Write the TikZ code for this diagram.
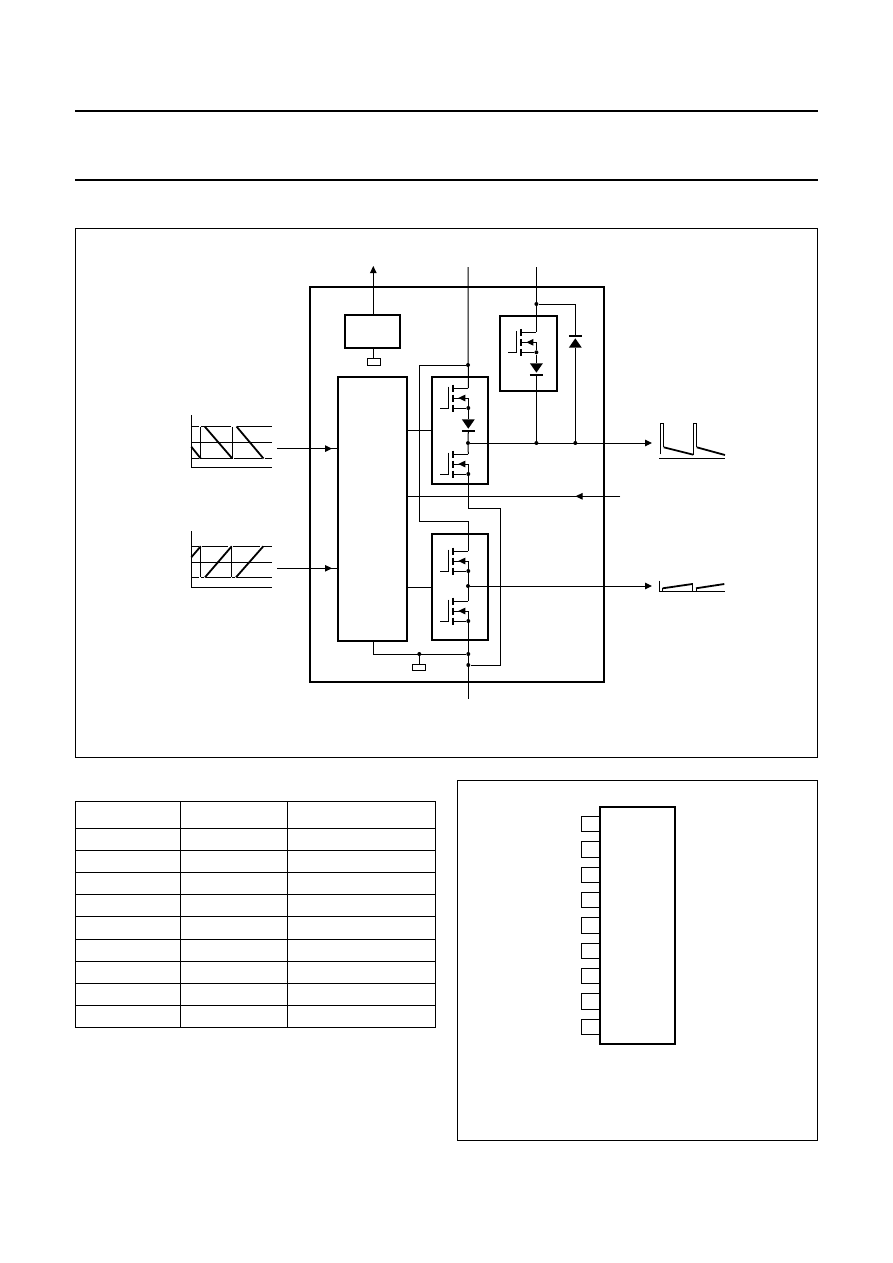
\documentclass[tikz,border=0pt]{standalone}
\usetikzlibrary{positioning,arrows.meta,calc}

\begin{document}
\begin{tikzpicture}[x=1pt,y=-1pt,
    blk/.style={draw,line width=2.2pt,outer sep=0pt,inner sep=0pt},
    term/.style={draw,line width=1pt,outer sep=0pt,inner sep=0pt,minimum height=6.4pt},
    pinbox/.style={draw,line width=1pt,outer sep=0pt,inner sep=0pt,minimum width=18.7pt,minimum height=15.5pt},
    dot/.style={circle,fill,inner sep=0pt,minimum size=4pt},
    wire/.style={line width=1pt},
    arr/.style={-{Triangle[length=7pt,width=6.5pt]},line width=1pt},
    rule/.style={line width=1.5pt},
    wave/.style={line width=1.8pt},
    bar/.style={line width=2pt}]
  \useasboundingbox (0,0) rectangle (892,1263);
  \draw[rule] (75,111) -- (818,111);
  \draw[rule] (75,180) -- (818,180);
  \node[draw,line width=1pt,minimum width=742pt,minimum height=529pt,outer sep=0pt,inner sep=0pt,anchor=north west] (figA) at (75.5,228.5) {};
  \node[draw,line width=1pt,minimum width=360pt,minimum height=360pt,outer sep=0pt,inner sep=0pt,anchor=north west] (figB) at (457.5,780.5) {};

  % chip outline and blocks
  \node[blk,minimum width=294pt,minimum height=395pt,anchor=north west] (chip) at (310,287) {};
  \node[blk,minimum width=69pt,minimum height=264pt,anchor=north west] (logic) at (338,377) {};
  \node[blk,minimum width=55pt,minimum height=33pt,anchor=north west] (reg) at (345,315) {};
  \node[blk,minimum width=56pt,minimum height=107pt,below right=0pt and 25pt of logic.north east] (hi) {};
  \node[blk,minimum width=56pt,minimum height=106pt,below=50pt of hi] (lo) {};
  \node[blk,minimum width=57pt,minimum height=75pt,anchor=north west] (boost) at (500,316) {};
  \node[term,minimum width=13pt,below=10.7pt of reg.south,xshift=1pt] (tA) {};
  \node[term,minimum width=13pt,anchor=north] (tB) at (419.3,664.3) {};

  % junctions
  \node[dot] (jHi) at (468,365) {};
  \node[dot] (jBoost) at (536.4,304) {};
  \node[dot] (jOutA) at (468,443) {};
  \node[dot] (jOutB) at (536.4,443) {};
  \node[dot] (jOutC) at (575.3,443) {};
  \node[dot] (jOutD) at (468,586) {};
  \node[dot] (jGnd) at (419.3,654) {};
  \node[dot] (jLoA) at (468.3,654) {};
  \node[dot] (jLoB) at (468.3,665) {};
  \coordinate (vddA) at (468,267);
  \coordinate (vddB) at (536.4,267);
  \coordinate (gndOut) at (468.3,699);
  \coordinate (upOut) at (373.3,266);
  \coordinate (outA) at (652,443);
  \coordinate (outB) at (652,586);
  \coordinate (fb) at (620,496.3);
  \coordinate (fbTip) at (575.5,496.3);
  \coordinate (inA) at (277,448.6);
  \coordinate (inAtip) at (332,448.6);
  \coordinate (inB) at (277,568.3);
  \coordinate (inBtip) at (332,568.3);

  % output transistors
  \foreach \nm/\x/\y in {qA/468.3/388,qB/468.3/454,qC/468.3/551,qD/468.3/601,qE/536.4/332.3} {
    \coordinate (\nm d) at (\x,\y);
    \node[dot] (\nm s) at (\x,\y+20) {};
    \coordinate (\nm c) at (\x-15,\y);
    \coordinate (\nm g) at (\x-20,\y+20);
    \draw[bar] ($(\nm c)+(0,-3.5)$) -- ++(0,7);
    \draw[bar] ($(\nm c)+(0,6.5)$) -- ++(0,7);
    \draw[bar] ($(\nm c)+(0,16.5)$) -- ++(0,7);
    \draw[wire] (\nm c) -- (\nm d);
    \draw[wire] ($(\nm c)+(0,20)$) -- (\nm s);
    \draw[wire] ($(\nm c)+(0,10)$) -- ($(\nm d)+(0,10)$) -- (\nm s);
    \draw[arr] ($(\nm d)+(-4.5,10)$) -- ($(\nm c)+(5,10)$);
    \draw[wire] ($(\nm g)+(0,-21.5)$) -- (\nm g) -- ++(-8,0);
  }

  % diodes
  \foreach \nm/\x/\yb/\ya in {dA/468.3/431/419.3,dB/536.4/375/363.3,dC/575.3/336/347.7} {
    \coordinate (\nm k) at (\x,\yb);
    \coordinate (\nm a) at (\x,\ya);
    \draw[bar] ($(\nm k)+(-6.5,0)$) -- ($(\nm k)+(6.5,0)$);
    \fill ($(\nm a)+(-6.5,0)$) -- ($(\nm a)+(6.5,0)$) -- ($(\nm k)!0.2!(\nm a)$) -- cycle;
  }

  % connectors
  \draw[arr] (reg.north -| upOut) -- (upOut);
  \draw[wire] (reg.south -| tA) -- (tA);
  \draw[wire] (vddA) -- (qAd);
  \draw[wire] (vddB) -- (qEd);
  \draw[wire] (jHi) -- (419.3,365) -- (419.3,521.3) -- (468.3,521.3) -- (qCd);
  \draw[wire] (jBoost) -| (dCk);
  \draw[wire] (dCa) -- (jOutC);
  \draw[wire] (qEs) -- (dBa);
  \draw[wire] (dBk) -- (jOutB);
  \draw[wire] (qAs) -- (dAa);
  \draw[wire] (dAk) -- (jOutA);
  \draw[wire] (jOutA) -- (qBd);
  \draw[arr] (jOutA) -- (outA);
  \draw[arr] (jOutD) -- (outB);
  \draw[wire] (logic.east |- hi.west) -- (hi.west);
  \draw[wire] (logic.east |- lo.west) -- (lo.west);
  \draw[wire] (fb) -- (logic.east |- fb);
  \draw[arr] (fb) -- (fbTip);
  \draw[wire] (qBs) -- (468.3,508.3) -- (500.3,508.3) -- (500.3,665) -- (jLoB);
  \draw[wire] (qCs) -- (qDd);
  \draw[wire] (qDs) -- (gndOut);
  \draw[wire] (logic.south -| upOut) |- (jLoA);
  \draw[wire] (jGnd) -- (tB);
  \draw[wire] (inA) -- (logic.west |- inA);
  \draw[arr] (inA) -- (inAtip);
  \draw[wire] (inB) -- (logic.west |- inB);
  \draw[arr] (inB) -- (inBtip);

  % input waveforms
  \draw[wire] (191.3,415) -- (191.3,467.3) -- (271.7,467.3);
  \draw[wire] (191.3,426.5) -- (199,426.5) (200.7,426.5) -- (231,426.5) (236.5,426.5) -- (271.7,426.5);
  \draw[wire] (191.3,442.3) -- (271.7,442.3);
  \draw[wire] (191.3,458.5) -- (199,458.5) (200.7,458.5) -- (232,458.5) (234,458.5) -- (262,458.5) (264.5,458.5) -- (271.7,458.5);
  \draw[wire] (200.7,458.5) -- (200.7,426.5);
  \draw[wire] (232.3,458.5) -- (232.3,426.5);
  \draw[wave] (191.3,446.7) -- (200.7,458.5);
  \draw[wave] (204.7,426.5) -- (232.3,458.5);
  \draw[wave] (236.5,426.5) -- (263.5,458.5);
  \draw[wire] (191.3,531) -- (191.3,587.3) -- (271.7,587.3);
  \draw[wire] (191.3,546.3) -- (199,546.3) (201.7,546.3) -- (228.3,546.3) (233.3,546.3) -- (260,546.3) (263,546.3) -- (271.7,546.3);
  \draw[wire] (191.3,562.3) -- (271.7,562.3);
  \draw[wire] (191.3,577.3) -- (199,577.3) (200.7,577.3) -- (204,577.3) (206,577.3) -- (231,577.3) (231.7,577.3) -- (235,577.3) (237,577.3) -- (271.7,577.3);
  \draw[wire] (200.7,546.3) -- (200.7,577.3);
  \draw[wire] (231.7,546.3) -- (231.7,577.3);
  \draw[wave] (191.3,557.3) -- (200.7,546.3);
  \draw[wave] (205,577.3) -- (231.7,546.3);
  \draw[wave] (236,577.3) -- (263.3,546.3);

  % output waveforms
  \draw[wire] (659,458.3) -- (725,458.3);
  \draw[wire] (660.3,454.3) -- (660.3,423.3) -- (663.7,423.3) -- (663.7,447.3);
  \draw[wire] (693.3,454.7) -- (693.3,423.3) -- (696.7,423.3) -- (696.7,447.3);
  \draw[wave] (663.7,447.3) -- (693.3,454.7);
  \draw[wave] (696.7,447.3) -- (725,455);
  \draw[wire] (659.7,580.7) -- (659.7,591.3) -- (692.3,591.3) -- (692.3,583.3);
  \draw[wire] (692.3,591.3) -- (696,591.3) -- (725,591.3);
  \draw[wire] (662.7,591.3) -- (662.7,588.3);
  \draw[wire] (696,591.3) -- (696,588.3);
  \draw[wave] (662.7,588.3) -- (692.3,584);
  \draw[wave] (696,588.3) -- (724.3,584);

  % table
  \foreach \yy in {801,828,850,872,894,916,939,961,983,1005,1027} \draw[wire] (75,\yy) -- (436,\yy);
  \foreach \xx in {75.5,180.5,287.5,435.5} \draw[wire] (\xx,801) -- (\xx,1027);

  % pinning
  \node[blk,minimum width=75pt,minimum height=237pt,anchor=north west] (ic) at (600,807) {};
  \foreach \i/\yy in {1/823.8,2/849.3,3/874.8,4/899.8,5/925.3,6/950.8,7/975.8,8/1001.3,9/1026.8}
    \node[pinbox,anchor=east] (pin\i) at (600,\yy) {};
\end{tikzpicture}
\end{document}
